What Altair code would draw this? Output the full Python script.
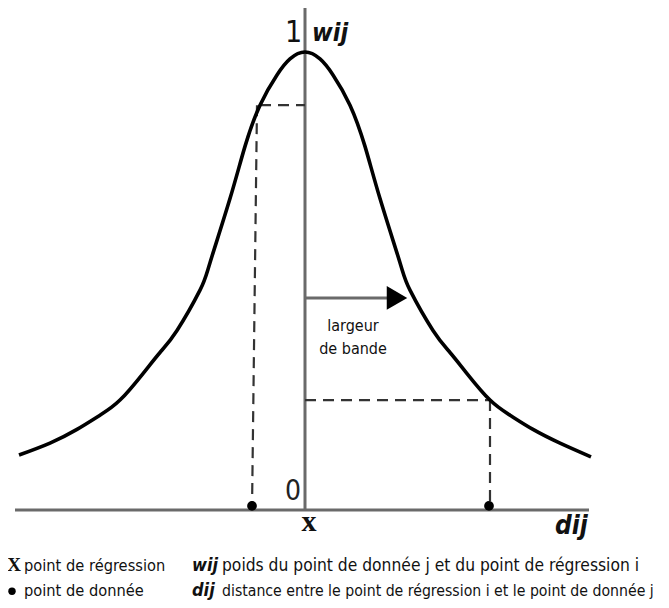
import altair as alt
import pandas as pd

# ---- data (distance d_ij, weight w_ij) ----
curve_d = [-2.86, -2.55, -2.28, -2.05, -1.85, -1.62, -1.45, -1.28, -1.05, -0.95, -0.75, -0.60, -0.45,
           -0.28, -0.15, 0.0, 0.15, 0.28, 0.45, 0.60, 0.75, 0.95, 1.05, 1.28, 1.45, 1.62, 1.85,
           2.05, 2.28, 2.55, 2.86]
curve_w = [0.120, 0.146, 0.176, 0.207, 0.240, 0.298, 0.344, 0.392, 0.480, 0.540, 0.680, 0.794, 0.884,
           0.950, 0.985, 1.0, 0.985, 0.950, 0.884, 0.794, 0.680, 0.540, 0.480, 0.392, 0.344, 0.298, 0.240,
           0.207, 0.176, 0.146, 0.116]

dots_d = [-0.53, 1.84]
dots_w = [0.009, 0.009]

# dashed guides: start (d, w) -> end (d2, w2)
dash_d = [-0.45, -0.48, 0.0, 1.85]
dash_w = [0.884, 0.884, 0.240, 0.240]
dash_d2 = [0.0, -0.53, 1.85, 1.85]
dash_w2 = [0.884, 0.0, 0.240, 0.0]

# axes lines
axis_d = [-2.90, 0.0]
axis_w = [0.0, 0.0]
axis_d2 = [2.84, 0.0]
axis_w2 = [0.0, 1.096]

# bandwidth arrow
arrow_d, arrow_w, arrow_d2 = [0.0], [0.463], [0.86]
head_d, head_w = [0.92], [0.463]

# legend texts
leg_labels = ["point de régression", "point de donnée",
              "poids du point de donnée j et du point de régression i",
              "distance entre le point de régression i et le point de donnée j"]
leg_d = [-2.81, -2.81, -0.83, -0.83]
leg_w = [-0.133, -0.188, -0.133, -0.188]
leg_fs = [16.3, 16.3, 17.3, 15.7]

FONT = "Liberation Sans Narrow, DejaVu Sans Condensed, Liberation Sans, sans-serif"

xs = alt.Scale(domain=[-2.97, 3.56], nice=False, zero=False)
ys = alt.Scale(domain=[-0.1965, 1.0961], nice=False, zero=False)
X = lambda f: alt.X(f, type="quantitative", scale=xs, axis=None)
Y = lambda f: alt.Y(f, type="quantitative", scale=ys, axis=None)

curve_df = pd.DataFrame({"d": curve_d, "w": curve_w})
curve = alt.Chart(curve_df).mark_line(color="black", strokeWidth=3.6, interpolate="natural").encode(
    x=X("d"), y=Y("w"), order="d:Q")

axes_df = pd.DataFrame({"d": axis_d, "w": axis_w, "d2": axis_d2, "w2": axis_w2})
axes = alt.Chart(axes_df).mark_rule(color="#6a6a6a", strokeWidth=3).encode(
    x=X("d"), y=Y("w"), x2="d2", y2="w2")

dash_df = pd.DataFrame({"d": dash_d, "w": dash_w, "d2": dash_d2, "w2": dash_w2})
dashes = alt.Chart(dash_df).mark_rule(color="#333333", strokeWidth=2.2, strokeDash=[11, 7]).encode(
    x=X("d"), y=Y("w"), x2="d2", y2="w2")

arrow_df = pd.DataFrame({"d": arrow_d, "w": arrow_w, "d2": arrow_d2})
arrow = alt.Chart(arrow_df).mark_rule(color="#6a6a6a", strokeWidth=3).encode(
    x=X("d"), y=Y("w"), x2="d2")
head_df = pd.DataFrame({"d": head_d, "w": head_w})
head = alt.Chart(head_df).mark_point(shape="triangle-right", filled=True, color="black",
                                     opacity=1, size=560).encode(x=X("d"), y=Y("w"))

dots_df = pd.DataFrame({"d": dots_d, "w": dots_w})
dots = alt.Chart(dots_df).mark_circle(color="black", opacity=1, size=95).encode(x=X("d"), y=Y("w"))


def text_layer(labels, ds, ws, **kw):
    df = pd.DataFrame({"d": ds, "w": ws, "t": labels})
    return alt.Chart(df).mark_text(**kw).encode(x=X("d"), y=Y("w"), text="t:N")


# chart labels
t_one = text_layer(["1"], [-0.115], [1.022], font=FONT, fontSize=30, align="center",
                   baseline="alphabetic", color="#111")
t_wij = text_layer(["wij"], [0.07], [1.024], font=FONT, fontSize=25, fontStyle="italic",
                   fontWeight="bold", align="left", baseline="alphabetic", color="#111")
t_zero = text_layer(["0"], [-0.12], [0.022], font=FONT, fontSize=28, align="center",
                    baseline="alphabetic", color="#222")
t_x = text_layer(["x"], [0.04], [-0.046], font="Liberation Serif", fontSize=30, fontWeight="bold",
                 align="center", baseline="alphabetic", color="#111")
t_dij = text_layer(["dij"], [2.50], [-0.052], font=FONT, fontSize=26, fontStyle="italic",
                   fontWeight="bold", align="left", baseline="alphabetic", color="#111")
t_band = text_layer(["largeur", "de bande"], [0.48, 0.48], [0.391, 0.341], font=FONT, fontSize=16,
                    align="center", baseline="alphabetic", color="#111")

# legend
leg_dot_df = pd.DataFrame({"d": [-2.93], "w": [-0.1775]})
leg_dot = alt.Chart(leg_dot_df).mark_circle(color="black", opacity=1, size=55).encode(x=X("d"), y=Y("w"))
leg_x = text_layer(["X"], [-2.91], [-0.133], font="Liberation Serif", fontSize=19, fontWeight="bold",
                   align="center", baseline="alphabetic", color="#111")
leg_sym = text_layer(["wij", "dij"], [-1.13, -1.13], [-0.133, -0.188], font=FONT, fontSize=18,
                     fontStyle="italic", fontWeight="bold", align="left", baseline="alphabetic",
                     color="#111")
leg_df = pd.DataFrame({"d": leg_d, "w": leg_w, "t": leg_labels, "fs": leg_fs})
leg_txt = alt.Chart(leg_df).mark_text(font=FONT, align="left", baseline="alphabetic",
                                      color="#111").encode(
    x=X("d"), y=Y("w"), text="t:N", size=alt.Size("fs:Q", scale=None, legend=None))

chart = alt.layer(
    axes, dashes, arrow, head, curve, dots,
    t_one, t_wij, t_zero, t_x, t_dij, t_band,
    leg_dot, leg_x, leg_sym, leg_txt,
).properties(
    width=653, height=592, padding=0, autosize="none", background="white"
).configure_view(strokeWidth=0)

chart.save("out.html", embed_options={"renderer": "svg", "actions": False})
